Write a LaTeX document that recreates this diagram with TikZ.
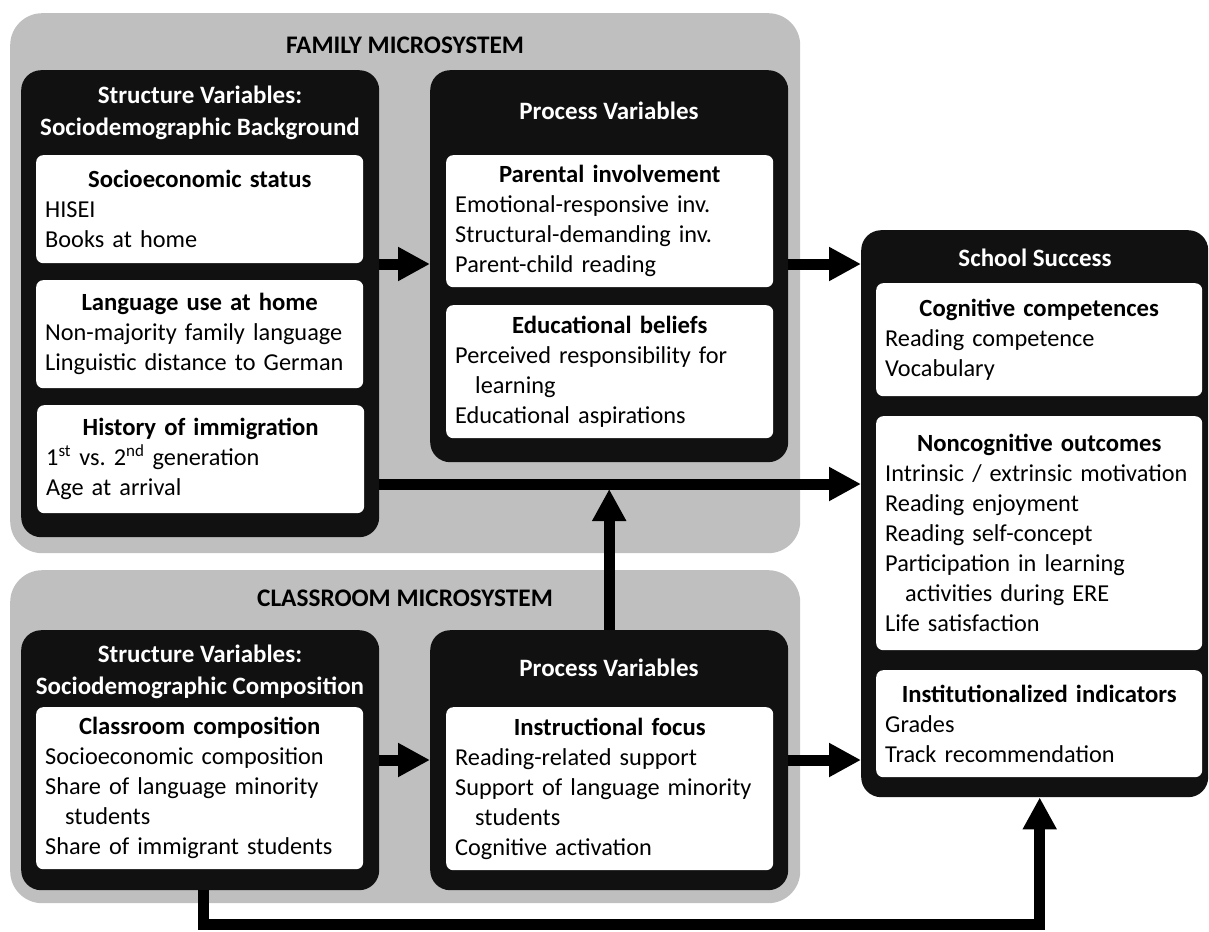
\documentclass[tikz,border=0pt]{standalone}
\usepackage{fontspec}
\setmainfont{Carlito}
\usetikzlibrary{arrows.meta}
\definecolor{panelgray}{HTML}{BFBFBF}
\definecolor{boxblack}{HTML}{111111}

\tikzset{
  micro/.style={fill=panelgray, rounded corners=32pt, inner sep=0pt, anchor=north west},
  microtitle/.style={font=\fontsize{25.3}{30}\selectfont\bfseries, inner sep=0pt},
  blackbox/.style={fill=boxblack, rounded corners=20pt, inner sep=0pt, anchor=north west},
  whitebox/.style={fill=white, rounded corners=7pt, anchor=north west, inner xsep=9pt,
    inner ysep=0pt, align=left, font=\fontsize{24.3}{30}\selectfont},
  hdr/.style={text=white, font=\fontsize{25}{31.5}\selectfont\bfseries, align=center, inner sep=0pt},
  arr/.style={line width=11pt, -{Triangle[length=32pt,width=32pt]}},
}
\newcommand{\boxhead}[1]{\makebox[\linewidth]{\fontsize{24.7}{30}\selectfont\bfseries #1}}
\newcommand{\wrapind}{\hspace*{20pt}}

\begin{document}
\begin{tikzpicture}[x=1pt,y=-1pt]
\useasboundingbox (0,0) rectangle (1209,931);

% ---------- Family microsystem ----------
\node[micro, minimum width=790pt, minimum height=540pt] (family) at (10,13) {};
\node[microtitle] (familyT) at (405,45) {FAMILY MICROSYSTEM};

\node[blackbox, minimum width=358pt, minimum height=467pt] (fstruct) at (21,70) {};
\node[hdr] (fstructT) at (200,113) {Structure Variables:\\Sociodemographic Background};

\node[whitebox, minimum width=327pt, minimum height=108pt, text width=309pt] (ses) at (36,155)
  {\boxhead{Socioeconomic status}\\HISEI\\Books at home};
\node[whitebox, minimum width=327pt, minimum height=108pt, text width=309pt] (lang) at (36,280)
  {\boxhead{Language use at home}\\Non-majority family language\\Linguistic distance to German};
\node[whitebox, minimum width=327pt, minimum height=108pt, text width=309pt] (hist) at (37,405)
  {\boxhead{History of immigration}\\1\textsuperscript{st} vs.\ 2\textsuperscript{nd} generation\\Age at arrival};

\node[blackbox, minimum width=358pt, minimum height=392pt] (fproc) at (430,70) {};
\node[hdr] (fprocT) at (609,111) {Process Variables};

\node[whitebox, minimum width=327pt, minimum height=132pt, text width=309pt] (pinv) at (446,155)
  {\boxhead{Parental involvement}\\Emotional-responsive inv.\\Structural-demanding inv.\\Parent-child reading};
\node[whitebox, minimum width=327pt, minimum height=133pt, text width=309pt] (ebel) at (446,305)
  {\boxhead{Educational beliefs}\\Perceived responsibility for\\\wrapind learning\\Educational aspirations};

% ---------- Classroom microsystem ----------
\node[micro, minimum width=790pt, minimum height=333pt] (classroom) at (10,570) {};
\node[microtitle] (classT) at (405,598) {CLASSROOM MICROSYSTEM};

\node[blackbox, minimum width=358pt, minimum height=260pt] (cstruct) at (21,630) {};
\node[hdr] (cstructT) at (200,672) {Structure Variables:\\Sociodemographic Composition};

\node[whitebox, minimum width=327pt, minimum height=162pt, text width=309pt] (ccomp) at (36,707)
  {\boxhead{Classroom composition}\\Socioeconomic composition\\Share of language minority\\\wrapind students\\Share of immigrant students};

\node[blackbox, minimum width=358pt, minimum height=260pt] (cproc) at (430,630) {};
\node[hdr] (cprocT) at (609,668) {Process Variables};

\node[whitebox, minimum width=327pt, minimum height=163pt, text width=309pt] (ifocus) at (446,707)
  {\boxhead{Instructional focus}\\Reading-related support\\Support of language minority\\\wrapind students\\Cognitive activation};

% ---------- School success ----------
\node[blackbox, minimum width=347pt, minimum height=567pt] (school) at (861,230) {};
\node[hdr] (schoolT) at (1035,258) {School Success};

\node[whitebox, minimum width=326pt, minimum height=113pt, text width=308pt] (cogn) at (876,283)
  {\boxhead{Cognitive competences}\\Reading competence\\Vocabulary};
\node[whitebox, minimum width=326pt, minimum height=234pt, text width=308pt] (noncog) at (876,416)
  {\boxhead{Noncognitive outcomes}\\Intrinsic / extrinsic motivation\\Reading enjoyment\\Reading self-concept\\Participation in learning\\\wrapind activities during ERE\\Life satisfaction};
\node[whitebox, minimum width=326pt, minimum height=107pt, text width=308pt] (inst) at (876,670)
  {\boxhead{Institutionalized indicators}\\Grades\\Track recommendation};

% ---------- Connectors ----------
\coordinate (rowA) at (0,264);
\coordinate (rowB) at (0,484);
\coordinate (rowC) at (0,760);
\coordinate (rowD) at (0,924);
\coordinate (drop) at ([xshift=3pt]cstruct.south);

\draw[arr] (fstruct.east |- rowA) -- (fproc.west |- rowA);
\draw[arr] (fproc.east |- rowA) -- (school.west |- rowA);
\draw[arr] (fstruct.east |- rowB) -- (school.west |- rowB);
\draw[arr] (cproc.north) -- ([yshift=-5pt]cproc.north |- rowB);
\draw[arr] (cstruct.east |- rowC) -- (cproc.west |- rowC);
\draw[arr] (cproc.east |- rowC) -- (school.west |- rowC);
\draw[arr] (drop) -- (drop |- rowD) -| ([xshift=5pt]school.south);
\end{tikzpicture}
\end{document}
